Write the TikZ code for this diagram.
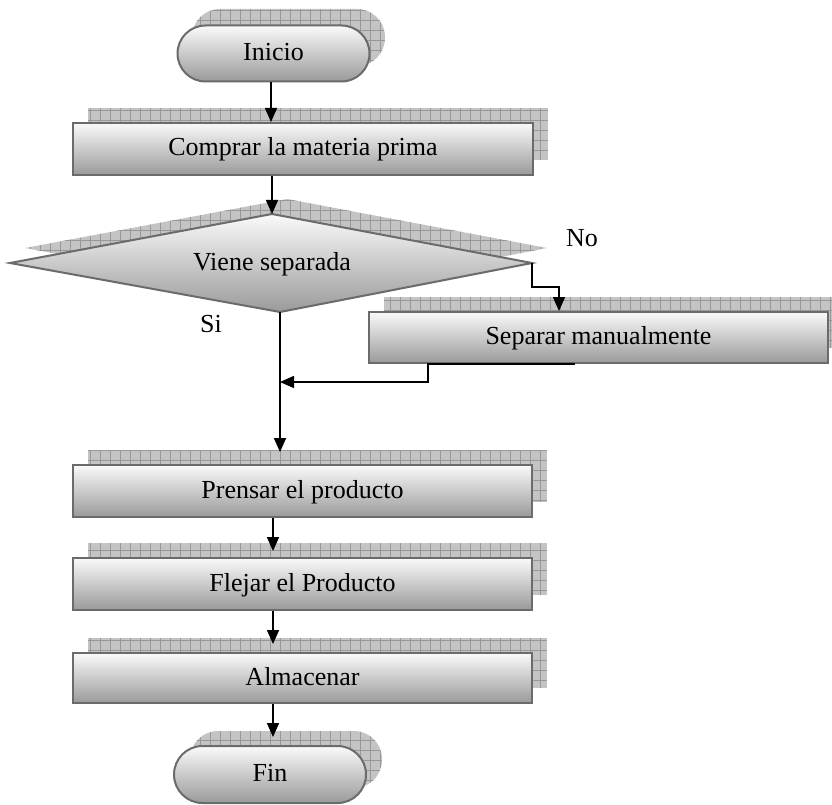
\documentclass[tikz,border=0pt]{standalone}
\usepackage{fontspec}
\setmainfont{Liberation Serif}
\usetikzlibrary{arrows.meta,shapes.misc,calc}
\definecolor{bordc}{HTML}{6B6B6B}
\definecolor{shfill}{HTML}{C4C4C4}
\definecolor{shgrid}{HTML}{989898}
\definecolor{topc}{HTML}{FAFAFA}
\definecolor{botc}{HTML}{9A9A9A}
\tikzset{
  txt/.style={font=\fontsize{26}{30}\selectfont, text height=20pt, text depth=6pt, inner sep=0pt},
  procbox/.style={txt, rectangle, draw=bordc, line width=2pt, top color=topc, bottom color=botc,
    minimum width=459pt, minimum height=51pt},
  termbox/.style={txt, rounded rectangle, draw=bordc, line width=2pt, top color=topc, bottom color=botc,
    minimum width=192pt, minimum height=56pt},
  decbox/.style={draw=bordc, line width=2pt, top color=topc, bottom color=botc},
  shadowsh/.style={fill=shfill, path picture={\draw[shgrid, line width=0.6pt, step=10pt]
    (path picture bounding box.south west) grid (path picture bounding box.north east);}},
  arr/.style={line width=1.6pt, -{Triangle[length=14pt,width=12pt]}},
  lbl/.style={txt}
}
\begin{document}
\begin{tikzpicture}[x=1pt,y=-1pt]
\clip (0,0) rectangle (832,805);
\fill[white] (0,0) rectangle (832,805);
% shadows
\path[shadowsh, rounded corners=28pt] (192,9) rectangle (385,66);
\path[shadowsh] (88,108) rectangle (548,160);
\path[shadowsh] (25,248) -- (287,199) -- (547,248) -- (295,297) -- cycle;
\path[shadowsh] (384,297) rectangle (843,348);
\path[shadowsh] (88,450) rectangle (547,502);
\path[shadowsh] (88,543) rectangle (547,595);
\path[shadowsh] (88,638) rectangle (547,688);
\path[shadowsh, rounded corners=28pt] (190,731) rectangle (382,788);
% decision shape
\coordinate (dL) at (10,263);
\coordinate (dT) at (272,214);
\coordinate (dR) at (532,263);
\coordinate (dB) at (280,312);
\path[decbox] (dL) -- (dT) -- (dR) -- (dB) -- cycle;
% nodes
\node[termbox] (ini) at (273.5,53.5) {Inicio};
\node[procbox, minimum width=460pt, minimum height=52pt] (comp) at (303,149) {Comprar la materia prima};
\node[lbl] (dec) at (272,263) {Viene separada};
\node[procbox] (sep) at (598.5,337.5) {Separar manualmente};
\node[procbox, minimum height=52pt] (pren) at (302.5,491) {Prensar el producto};
\node[procbox, minimum height=52pt] (flej) at (302.5,584) {Flejar el Producto};
\node[procbox, minimum height=50pt] (alm) at (302.5,678) {Almacenar};
\node[termbox, minimum height=57pt] (fin) at (270,774.5) {Fin};
\node[lbl] (no) at (582,239) {No};
\node[lbl] (si) at (211,325) {Si};
% connectors
\coordinate (c1) at (271,0);
\draw[arr] (c1 |- ini.south) -- (c1 |- comp.north);
\draw[arr] (dT |- comp.south) -- (dT);
\coordinate (nb) at (559,287);
\draw[arr] (dR) |- (nb) -- (nb |- sep.north);
\coordinate (mg) at (280,382);
\coordinate (sb) at (575,0);
\coordinate (sk) at (428,0);
\draw[arr] (sb |- sep.south) -- (sk |- sep.south) |- (mg);
\draw[arr, shorten >=12pt] (dB) -- (dB |- pren.north);
\coordinate (c2) at (273,0);
\draw[arr, shorten >=6pt] (c2 |- pren.south) -- (c2 |- flej.north);
\draw[arr, shorten >=8pt] (c2 |- flej.south) -- (c2 |- alm.north);
\draw[arr, shorten >=8pt] (c2 |- alm.south) -- (c2 |- fin.north);
\end{tikzpicture}
\end{document}
